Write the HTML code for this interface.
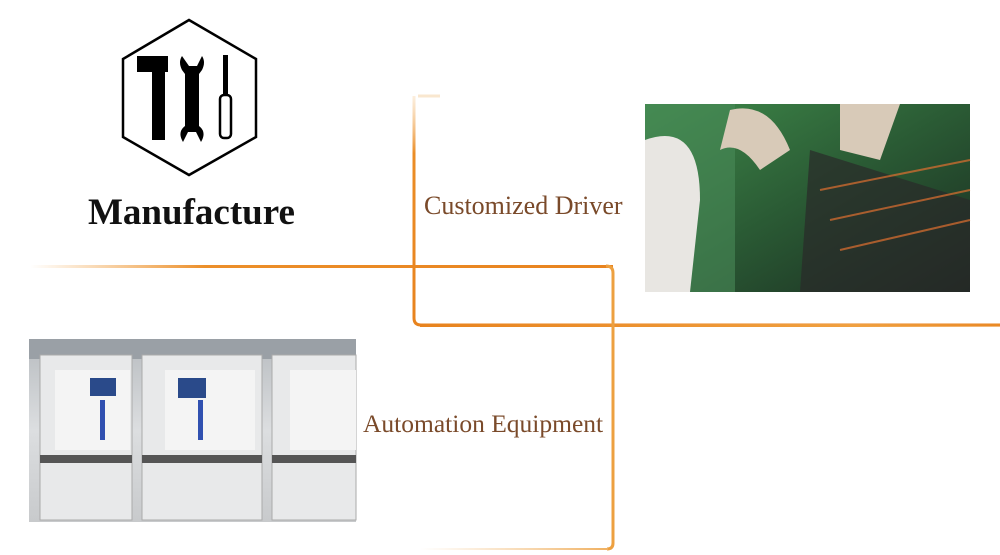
<!DOCTYPE html>
<html><head><style>
body{margin:0;width:1000px;height:555px;background:#fff;position:relative;overflow:hidden;font-family:"Liberation Serif",serif}
.t{position:absolute;color:#7a4a2a}
</style></head><body>
<svg width="1000" height="555" style="position:absolute;left:0;top:0">
<defs>
<linearGradient id="h1" x1="0" x2="1"><stop offset="0" stop-color="#f0a040" stop-opacity="0"/><stop offset="0.3" stop-color="#ec8f2a"/><stop offset="1" stop-color="#e8831e"/></linearGradient>
<linearGradient id="h2" x1="0" x2="1"><stop offset="0" stop-color="#e8831e"/><stop offset="0.75" stop-color="#f0a040"/><stop offset="1" stop-color="#f0a040" stop-opacity="0.2"/></linearGradient>
<linearGradient id="v1" x1="0" y1="0" x2="0" y2="1"><stop offset="0" stop-color="#f5c890" stop-opacity="0.3"/><stop offset="0.25" stop-color="#eb8d26"/><stop offset="1" stop-color="#e8831e"/></linearGradient>
<linearGradient id="b1" x1="0" x2="1"><stop offset="0" stop-color="#f5c890" stop-opacity="0"/><stop offset="1" stop-color="#f0b060"/></linearGradient>
<linearGradient id="pcb" x1="0" y1="0" x2="1" y2="1"><stop offset="0" stop-color="#3f8a4a"/><stop offset="0.5" stop-color="#2a5a34"/><stop offset="1" stop-color="#1a2a20"/></linearGradient>
<linearGradient id="eq" x1="0" y1="0" x2="0" y2="1"><stop offset="0" stop-color="#b8bcc0"/><stop offset="0.5" stop-color="#dcdee0"/><stop offset="1" stop-color="#c8cacc"/></linearGradient>
</defs>
<rect x="30" y="265" width="583" height="3" fill="url(#h1)"/>
<path d="M418 96 H 440" stroke="#f5d0a0" stroke-width="3" opacity="0.5"/>
<path d="M414 96 V318 Q414 325 421 325 H1000" fill="none" stroke="url(#v1)" stroke-width="3"/>
<rect x="420" y="324" width="580" height="3" fill="url(#h2)"/>
<path d="M606 266 Q613 266 613 273 V543 Q613 549 607 549" fill="none" stroke="#eda040" stroke-width="3"/>
<rect x="420" y="548" width="188" height="2" fill="url(#b1)"/>
<polygon points="189,20 256,59 256,137 189,175 123,137 123,59" fill="none" stroke="#000" stroke-width="2.5"/>
<path d="M137 56 H168 V72 H165 V140 H152 V72 H137 Z" fill="#000"/>
<path d="M182 56 q-4 6 0 14 l3 4 v52 q-8 6 -2 16 l5 -10 h8 l5 10 q6-10 -2-16 v-52 l3-4 q4-8 0-14 l-5 10 h-8 z" fill="#000"/>
<rect x="223" y="55" width="5" height="40" fill="#000"/>
<rect x="220" y="95" width="11" height="43" rx="4" fill="none" stroke="#000" stroke-width="2.5"/>
<rect x="645" y="104" width="325" height="188" fill="url(#pcb)"/>
<rect x="645" y="104" width="90" height="188" fill="#4a8a58" opacity="0.6"/>
<path d="M645 140 Q700 120 700 200 L690 292 H645 Z" fill="#e8e6e2"/>
<path d="M730 110 Q770 100 790 150 L760 170 Q740 140 720 150 Z" fill="#d8cab8"/>
<path d="M840 104 H900 L880 160 L840 150 Z" fill="#d8cab8"/>
<path d="M810 150 L970 200 V292 H800 Z" fill="#2a2a2a" opacity="0.7"/>
<path d="M820 190 L970 160 M830 220 L970 190 M840 250 L970 220" stroke="#e07030" stroke-width="2" opacity="0.7"/>
<rect x="29" y="339" width="327" height="183" fill="url(#eq)"/>
<rect x="29" y="339" width="327" height="20" fill="#9aa0a6"/>
<rect x="40" y="355" width="92" height="165" fill="#e8e9ea" stroke="#aaa"/>
<rect x="142" y="355" width="120" height="165" fill="#e8e9ea" stroke="#aaa"/>
<rect x="272" y="355" width="84" height="165" fill="#e8e9ea" stroke="#aaa"/>
<rect x="55" y="370" width="75" height="80" fill="#f4f4f4"/>
<rect x="165" y="370" width="90" height="80" fill="#f4f4f4"/>
<rect x="290" y="370" width="66" height="80" fill="#f4f4f4"/>
<rect x="90" y="378" width="26" height="18" fill="#2a4a8a"/>
<rect x="178" y="378" width="28" height="20" fill="#2a4a8a"/>
<rect x="100" y="400" width="5" height="40" fill="#3050b0"/>
<rect x="198" y="400" width="5" height="40" fill="#3050b0"/>
<rect x="40" y="455" width="92" height="8" fill="#555"/>
<rect x="142" y="455" width="120" height="8" fill="#555"/>
<rect x="272" y="455" width="84" height="8" fill="#555"/>
</svg>
<div style="position:absolute;left:88px;top:191px;font-size:37px;font-weight:bold;color:#111;line-height:44px">Manufacture</div>
<div class="t" style="left:424px;top:191px;font-size:26px;line-height:30px">Customized Driver</div>
<div class="t" style="left:363px;top:409px;font-size:25.5px;line-height:30px">Automation Equipment</div>
</body></html>
